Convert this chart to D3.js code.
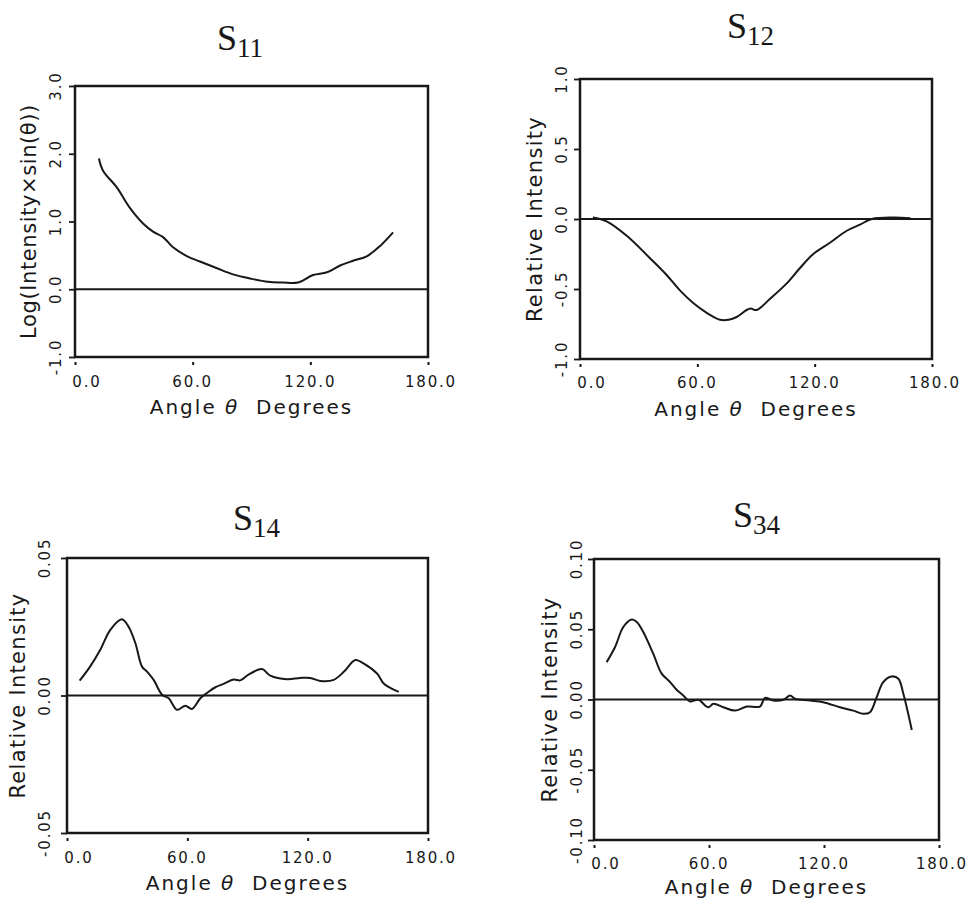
<!DOCTYPE html>
<html>
<head>
<meta charset="utf-8">
<script src="https://cdn.jsdelivr.net/npm/d3@7"></script>
<style>
  body { margin: 0; background: #ffffff; }
  svg { display: block; }
</style>
</head>
<body>
<svg id="fig" width="971" height="903"></svg>
<script>
// Shared angle axis
const angleTicks = [0, 60, 120, 180];
const angleTickLabels = ["0.0", "60.0", "120.0", "180.0"];

// S11: log(intensity * sin(theta))
const s11Angle = [12.2, 14.3, 21.4, 28.0, 34.7, 39.8, 44.9, 50.0, 57.0, 63.7, 72.4, 80.6, 89.2, 98.4, 106.0, 113.7, 121.4, 128.5, 135.2, 141.8, 149.0, 155.6, 162.2];
const s11Value = [1.93, 1.75, 1.50, 1.20, 0.97, 0.85, 0.77, 0.62, 0.49, 0.41, 0.31, 0.22, 0.16, 0.11, 0.10, 0.10, 0.21, 0.25, 0.35, 0.42, 0.49, 0.64, 0.84];
const s11Ticks = [-1, 0, 1, 2, 3];
const s11TickLabels = ["-1.0", "0.0", "1.0", "2.0", "3.0"];

// S12: relative intensity
const s12Angle = [6.6, 13.6, 23.9, 35.8, 44.3, 51.1, 57.9, 64.8, 71.6, 76.0, 80.1, 85.2, 87.3, 90.3, 97.2, 105.7, 112.5, 119.3, 127.8, 136.4, 143.2, 149.2, 160.2, 169.0];
const s12Value = [0.01, -0.017, -0.12, -0.28, -0.40, -0.51, -0.60, -0.67, -0.72, -0.72, -0.70, -0.65, -0.64, -0.65, -0.57, -0.46, -0.35, -0.25, -0.17, -0.084, -0.04, 0.0, 0.01, 0.005];
const s12Ticks = [-1, -0.5, 0, 0.5, 1];
const s12TickLabels = ["-1.0", "-0.5", "0.0", "0.5", "1.0"];

// S14: relative intensity
const s14Angle = [6.3, 11.6, 16.6, 21.6, 27.4, 30.7, 34.1, 37.4, 39.9, 43.2, 47.4, 50.7, 54.9, 59.0, 62.3, 66.5, 69.8, 74.0, 78.1, 83.1, 86.4, 90.5, 97.2, 101.4, 109.7, 116.3, 121.3, 126.3, 133.0, 138.0, 143.8, 148.0, 154.6, 157.9, 165.4];
const s14Value = [0.0054, 0.0106, 0.0166, 0.0239, 0.0277, 0.025, 0.019, 0.0105, 0.0087, 0.0057, 0.0003, -0.001, -0.0052, -0.0037, -0.0049, -0.001, 0.0009, 0.003, 0.0042, 0.0058, 0.0055, 0.0076, 0.0096, 0.0072, 0.0059, 0.0064, 0.0064, 0.0053, 0.0057, 0.0086, 0.0129, 0.0116, 0.008, 0.0044, 0.0013];
const s14Ticks = [-0.05, 0, 0.05];
const s14TickLabels = ["-0.05", "0.00", "0.05"];

// S34: relative intensity
const s34Angle = [6.6, 11.0, 15.3, 19.7, 22.3, 25.7, 30.9, 35.3, 39.7, 43.1, 46.6, 50.1, 54.4, 59.6, 62.3, 67.5, 73.6, 79.7, 86.6, 89.2, 93.5, 98.8, 102.3, 104.9, 112.7, 119.6, 128.3, 135.3, 140.5, 144.0, 147.5, 150.9, 155.3, 158.8, 161.4, 165.8];
const s34Value = [0.0266, 0.0374, 0.0516, 0.0569, 0.0552, 0.048, 0.0326, 0.0184, 0.0124, 0.0069, 0.0029, -0.0014, -0.0002, -0.0055, -0.0031, -0.0055, -0.0079, -0.005, -0.005, 0.0012, -0.0007, -0.0002, 0.0029, 0.0005, -0.0007, -0.0019, -0.0055, -0.0079, -0.0102, -0.009, 0.0017, 0.0124, 0.0164, 0.0148, 0.0041, -0.0217];
const s34Ticks = [-0.1, -0.05, 0, 0.05, 0.1];
const s34TickLabels = ["-0.10", "-0.05", "0.00", "0.05", "0.10"];

const panels = [
  { sub: "11", yTitle: "Log(Intensity×sin(θ))", yTitleSpacing: 0.6, x: s11Angle, y: s11Value, ticks: s11Ticks, labels: s11TickLabels,
    box: { l: 75, r: 428, t: 86, b: 357 }, titleAt: [217, 50], yTitleX: 36, tickLabelX: 61, xLabelDy: 30, xTitleDy: 57 },
  { sub: "12", yTitle: "Relative Intensity", yTitleSpacing: 1.3, x: s12Angle, y: s12Value, ticks: s12Ticks, labels: s12TickLabels,
    box: { l: 580, r: 932, t: 79, b: 359 }, titleAt: [727, 38], yTitleX: 542, tickLabelX: 567, xLabelDy: 29, xTitleDy: 57 },
  { sub: "14", yTitle: "Relative Intensity", yTitleSpacing: 1.3, x: s14Angle, y: s14Value, ticks: s14Ticks, labels: s14TickLabels,
    box: { l: 67, r: 428, t: 558, b: 833 }, titleAt: [233, 530], yTitleX: 25, tickLabelX: 50, xLabelDy: 30, xTitleDy: 57 },
  { sub: "34", yTitle: "Relative Intensity", yTitleSpacing: 1.3, x: s34Angle, y: s34Value, ticks: s34Ticks, labels: s34TickLabels,
    box: { l: 594, r: 939, t: 559, b: 840 }, titleAt: [733, 527], yTitleX: 557, tickLabelX: 582, xLabelDy: 29, xTitleDy: 54 }
];

const ink = "#181818";
const sansFont = "'DejaVu Sans', Verdana, sans-serif";
const svg = d3.select("#fig");

panels.forEach(p => {
  const { l, r, t, b } = p.box;
  const x = d3.scaleLinear().domain([0, 180]).range([l, r]);
  const y = d3.scaleLinear().domain(d3.extent(p.ticks)).range([b, t]);
  const g = svg.append("g");

  // title: S with subscript
  const title = g.append("text")
    .attr("x", p.titleAt[0]).attr("y", p.titleAt[1])
    .attr("font-family", "'Liberation Serif', 'Times New Roman', serif")
    .attr("fill", ink);
  title.append("tspan").attr("font-size", 36).text("S");
  title.append("tspan").attr("font-size", 27).attr("dy", 7).text(p.sub);

  // left axis: outward ticks, rotated labels
  const yAxis = g.append("g")
    .attr("transform", `translate(${l},0)`)
    .call(d3.axisLeft(y).tickValues(p.ticks).tickSize(6).tickFormat(""));
  yAxis.select(".domain").remove();
  yAxis.selectAll(".tick line").attr("stroke", ink).attr("stroke-width", 1.8);

  g.selectAll(".ytl")
    .data(p.ticks)
    .join("text")
    .attr("class", "ytl")
    .attr("transform", d => `translate(${p.tickLabelX},${y(d)}) rotate(-90)`)
    .attr("text-anchor", "middle")
    .attr("font-family", sansFont)
    .attr("font-size", 15)
    .attr("letter-spacing", 1.8)
    .attr("fill", ink)
    .text((d, i) => p.labels[i]);

  // bottom axis: small detached ticks and labels
  const xAxis = g.append("g")
    .attr("transform", `translate(0,${b})`)
    .call(d3.axisBottom(x).tickValues(angleTicks).tickSize(8).tickFormat(""));
  xAxis.select(".domain").remove();
  xAxis.selectAll(".tick line").attr("y1", 5).attr("stroke", ink).attr("stroke-width", 2);

  g.selectAll(".xtl")
    .data(angleTicks)
    .join("text")
    .attr("class", "xtl")
    .attr("x", (d, i) => x(d) + (i === 0 ? 12 : (i === angleTicks.length - 1 ? 3 : 0)))
    .attr("y", b + p.xLabelDy)
    .attr("text-anchor", "middle")
    .attr("font-family", sansFont)
    .attr("font-size", 15)
    .attr("letter-spacing", 1.8)
    .attr("fill", ink)
    .text((d, i) => angleTickLabels[i]);

  // axis titles
  const xt = g.append("text")
    .attr("x", (l + r) / 2).attr("y", b + p.xTitleDy)
    .attr("text-anchor", "middle")
    .attr("font-family", sansFont)
    .attr("font-size", 20)
    .attr("letter-spacing", 2)
    .attr("fill", ink)
    .attr("xml:space", "preserve");
  xt.append("tspan").text("Angle ");
  xt.append("tspan").attr("font-style", "italic").text("θ");
  xt.append("tspan").text("  Degrees");

  g.append("text")
    .attr("transform", `translate(${p.yTitleX},${(t + b) / 2}) rotate(-90)`)
    .attr("text-anchor", "middle")
    .attr("font-family", sansFont)
    .attr("font-size", 21)
    .attr("letter-spacing", p.yTitleSpacing)
    .attr("fill", ink)
    .text(p.yTitle);

  // zero reference line
  g.append("line")
    .attr("x1", l).attr("x2", r)
    .attr("y1", y(0)).attr("y2", y(0))
    .attr("stroke", ink).attr("stroke-width", 1.9);

  // frame
  g.append("rect")
    .attr("x", l).attr("y", t)
    .attr("width", r - l).attr("height", b - t)
    .attr("fill", "none").attr("stroke", ink).attr("stroke-width", 2.5);

  // measured curve
  const line = d3.line()
    .x((d, i) => x(p.x[i]))
    .y(d => y(d))
    .curve(d3.curveCatmullRom.alpha(0.5));
  g.append("path")
    .datum(p.y)
    .attr("d", line)
    .attr("fill", "none")
    .attr("stroke", ink)
    .attr("stroke-width", 2)
    .attr("stroke-linejoin", "round");
});
</script>
</body>
</html>
